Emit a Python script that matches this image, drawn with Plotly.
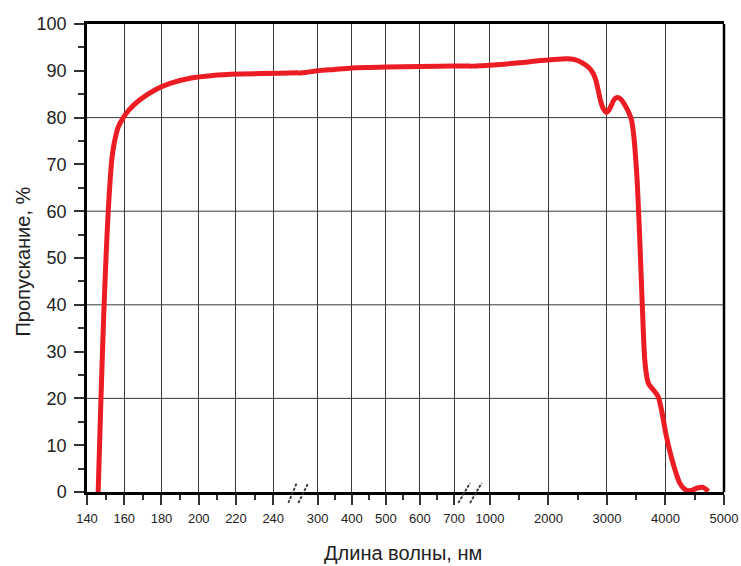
import plotly.graph_objects as go

# ---- data ----
wavelength_nm = [146, 147.5, 149, 150.2, 151.4, 153.2, 154.6, 156.8, 159.5, 162.7, 168.4,
                 176.5, 184.6, 195.3, 207.6, 222, 243.6, 270, 300, 350, 400, 500, 600, 700,
                 1000, 1500, 1854, 2000, 2309, 2450, 2593, 2680, 2763, 2810, 2849, 2890,
                 2934, 2992, 3035, 3077, 3125, 3173, 3240, 3305, 3365, 3419, 3450, 3475,
                 3515, 3561, 3600, 3646, 3690, 3720, 3800, 3874, 3932, 4017, 4130, 4244,
                 4320, 4386, 4460, 4530, 4643, 4700, 4728]
transmission_pct = [0, 20, 38, 50, 60, 70.5, 74.5, 78, 80, 81.7, 83.8,
                    85.9, 87.3, 88.4, 89.0, 89.3, 89.5, 89.7, 90.0, 90.3, 90.6, 90.8, 90.9, 91.0,
                    91.2, 91.7, 92.2, 92.3, 92.6, 92.4, 91.6, 90.8, 89.5, 88.0, 85.9, 83.6,
                    82.0, 81.1, 81.6, 82.7, 83.9, 84.3, 83.9, 82.7, 81.3, 79.5, 77.0, 73.8,
                    66.7, 53.8, 41.0, 28.2, 24.0, 22.9, 21.7, 20.4, 17.5, 11.8, 6.1, 1.9,
                    0.7, 0.3, 0.4, 0.8, 1.0, 0.5, 0.1]

# broken x axis: three linear segments
seg_ranges = [[140, 253.3], [242.2, 746.9], [658.6, 5000]]
seg_major = [[140, 160, 180, 200, 220, 240],
             [300, 400, 500, 600, 700],
             [1000, 2000, 3000, 4000, 5000]]
seg_minor = [[150, 170, 190, 210, 230],
             [350, 450, 550, 650],
             [1500, 2500, 3500, 4500]]

y_major = list(range(0, 101, 10))
y_minor = list(range(5, 100, 10))
y_grid = [20, 40, 60, 80]

x_title = "Длина волны, нм"
y_title = "Пропускание, %"

# ---- layout geometry (body margin removed by post_script) ----
W, H = 741, 566
L, R, T, B = 87, 17, 24, 74
PW, PH = W - L - R, H - T - B
break_px = [298, 470]
dom_edges = [0] + [(b - L) / PW for b in break_px] + [1]

FONT = "Liberation Sans, Arial, sans-serif"
RED = "#EC1C24"
GRID = "#3a3a3a"

fig = go.Figure()
axis_names = ["x", "x2", "x3"]
for i, ax in enumerate(axis_names):
    fig.add_trace(go.Scatter(
        x=wavelength_nm, y=transmission_pct, xaxis=ax, yaxis="y",
        mode="lines", line=dict(color=RED, width=5, shape="spline", smoothing=0.7),
        showlegend=False, hoverinfo="x+y"))

for i, ax in enumerate(axis_names):
    key = "xaxis" if i == 0 else f"xaxis{i+1}"
    fig.layout[key] = dict(
        domain=[dom_edges[i], dom_edges[i + 1]],
        range=seg_ranges[i], anchor="y", automargin=False,
        tickvals=seg_major[i], ticktext=[str(v) for v in seg_major[i]],
        ticks="outside", ticklen=10, tickwidth=1.5, tickcolor="#333",
        showgrid=True, gridcolor=GRID, gridwidth=1,
        showline=True, linecolor="black", linewidth=2.5, mirror=True,
        zeroline=False, ticklabelstandoff=3, ticklabeloverflow="allow",
        tickfont=dict(family=FONT, size=13, color="#222"),
        minor=dict(tickvals=seg_minor[i], ticks="outside", ticklen=5,
                   tickwidth=1.5, tickcolor="#333", showgrid=False),
    )

fig.update_layout(
    width=W, height=H,
    margin=dict(l=L, r=R, t=T, b=B, autoexpand=False),
    paper_bgcolor="white", plot_bgcolor="white",
    yaxis=dict(
        range=[0, 100], anchor="x", tickvals=y_major, automargin=False,
        ticks="outside", ticklen=10, tickwidth=1.5, tickcolor="#333",
        showgrid=False, zeroline=False,
        showline=True, linecolor="black", linewidth=2.5,
        ticklabelstandoff=4,
        tickfont=dict(family=FONT, size=18, color="#222"),
        minor=dict(tickvals=y_minor, ticks="outside", ticklen=6,
                   tickwidth=1.5, tickcolor="#333", showgrid=False),
    ),
)

shapes = []
# horizontal grid every 20
for g in y_grid:
    shapes.append(dict(type="line", xref="paper", yref="y", x0=0, x1=1, y0=g, y1=g,
                       line=dict(color=GRID, width=1), layer="below"))
# right border
shapes.append(dict(type="line", xref="paper", yref="paper", x0=1, x1=1, y0=0, y1=1,
                   line=dict(color="black", width=2.5), layer="above"))

def px2paper(px, py):
    return (px - L) / PW, (H - B - py) / PH

# break marks "//"
for slashes in ([(288.3, 296.7), (298.3, 308.3)], [(458.3, 470), (470, 481.7)]):
    for xa, xb in slashes:
        x0, y0 = px2paper(xa, 503)
        x1, y1 = px2paper(xb, 483)
        shapes.append(dict(type="line", xref="paper", yref="paper",
                           x0=x0, y0=y0, x1=x1, y1=y1,
                           line=dict(color="#333", width=1.8, dash="3px,1.5px"),
                           layer="above"))
fig.update_layout(shapes=shapes)

tx, _ = px2paper(402.5, 0)
fig.add_annotation(text=x_title, xref="paper", yref="paper",
                   x=tx, y=0, yanchor="middle", yshift=-61,
                   showarrow=False, font=dict(family=FONT, size=20, color="#222"))
ax_, ay_ = px2paper(22.5, 262)
fig.add_annotation(text=y_title, xref="paper", yref="paper",
                   x=ax_, y=ay_, xanchor="center", yanchor="middle",
                   textangle=-90, showarrow=False,
                   font=dict(family=FONT, size=20, color="#222"))

fig.write_html("out.html",
               config={"displayModeBar": False},
               post_script="document.body.style.margin='0';document.body.style.overflow='hidden';")
